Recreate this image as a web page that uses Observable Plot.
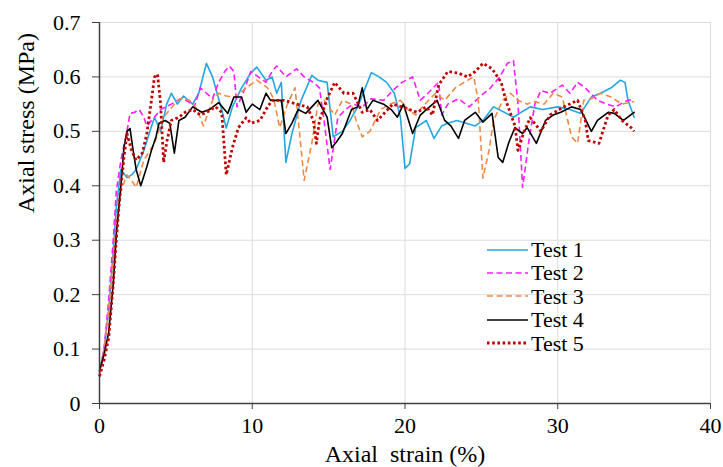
<!DOCTYPE html>
<html>
<head>
<meta charset="utf-8">
<script src="https://cdn.jsdelivr.net/npm/d3@7"></script>
<script src="https://cdn.jsdelivr.net/npm/@observablehq/plot@0.6"></script>
<style>
  html, body { margin: 0; padding: 0; background: #fff; }
  #wrap { position: relative; width: 723px; height: 467px; font-family: "Liberation Serif", "Times New Roman", serif; }
  #legend { position: absolute; left: 487px; top: 238px; font-size: 22px; color: #000; }
  .row { height: 23.4px; line-height: 23.4px; display: flex; align-items: center; white-space: nowrap; }
  .row svg { width: 41px; height: 10px; margin-right: 3px; }
</style>
</head>
<body>
<div id="wrap"><div id="legend"></div></div>
<script>
// ---- data ----
const seriesNames = ["Test 1", "Test 2", "Test 3", "Test 4", "Test 5"];
const xTicks = [0, 10, 20, 30, 40];
const yTicks = [0, 0.1, 0.2, 0.3, 0.4, 0.5, 0.6, 0.7];
const xLabel = "Axial\u00a0 strain (%)";
const yLabel = "Axial stress (MPa)";

const test1Strain = [0,0.3,0.6,0.9,1.1,1.4,1.8,2.1,2.4,2.9,3.3,3.6,4.0,4.4,4.7,5.1,5.5,6.1,6.5,7.0,7.4,7.7,8.0,8.3,8.7,9.3,9.9,10.3,10.9,11.3,11.6,11.9,12.2,12.6,13.2,13.9,14.3,14.9,15.3,15.9,16.4,16.9,17.4,17.8,18.3,18.8,19.3,19.7,20.0,20.3,20.7,21.4,21.9,22.4,22.8,23.4,24.0,24.6,25.1,25.8,26.5,27.1,27.6,28.2,29.0,30.0,30.8,31.5,32.2,32.8,33.5,34.1,34.4,34.6,35.0];
const test1Stress = [0.06,0.10,0.17,0.28,0.36,0.43,0.415,0.42,0.43,0.465,0.50,0.526,0.50,0.55,0.57,0.55,0.565,0.55,0.57,0.625,0.60,0.57,0.54,0.506,0.545,0.58,0.607,0.618,0.594,0.60,0.57,0.59,0.443,0.496,0.557,0.603,0.594,0.59,0.49,0.50,0.52,0.545,0.58,0.608,0.60,0.59,0.57,0.526,0.432,0.44,0.507,0.52,0.487,0.51,0.515,0.52,0.515,0.51,0.52,0.545,0.535,0.526,0.535,0.545,0.54,0.545,0.54,0.533,0.563,0.57,0.58,0.594,0.59,0.557,0.526];

const test2Strain = [0,0.3,0.6,0.9,1.1,1.4,1.8,2.0,2.3,2.6,2.9,3.1,3.6,4.0,4.7,5.3,5.8,6.2,6.6,7.0,7.4,7.8,8.2,8.5,8.8,9.0,9.4,9.9,10.4,10.9,11.3,11.6,12.2,12.9,13.4,14.0,14.4,14.7,15.1,15.6,16.1,16.6,17.2,17.8,18.6,19.2,19.8,20.5,21.0,21.5,22.2,22.4,22.8,23.5,24.2,25.0,25.6,26.2,26.7,27.1,27.4,27.7,28.1,28.5,28.9,29.5,30.3,30.8,31.3,31.8,32.6,33.2,33.8,34.4,35.0];
const test2Stress = [0.05,0.10,0.19,0.30,0.39,0.447,0.50,0.533,0.535,0.54,0.526,0.51,0.526,0.54,0.55,0.56,0.555,0.545,0.58,0.57,0.56,0.59,0.61,0.62,0.61,0.545,0.57,0.61,0.60,0.59,0.61,0.62,0.60,0.615,0.60,0.59,0.58,0.52,0.43,0.525,0.54,0.55,0.545,0.56,0.557,0.575,0.59,0.60,0.557,0.57,0.59,0.53,0.55,0.56,0.545,0.566,0.58,0.60,0.625,0.63,0.55,0.397,0.48,0.55,0.575,0.57,0.585,0.57,0.59,0.58,0.557,0.55,0.545,0.555,0.56];

const test3Strain = [0,0.3,0.6,0.9,1.1,1.4,1.8,2.1,2.4,2.9,3.6,4.2,4.9,5.3,5.9,6.4,6.8,7.4,7.8,8.3,8.9,9.6,10.3,11.0,11.4,11.8,12.3,12.8,13.1,13.4,13.9,14.3,14.7,15.4,15.9,16.5,16.8,17.2,17.7,18.4,19.0,19.7,20.2,20.7,21.3,22.0,22.6,23.3,24.1,24.5,24.8,25.1,25.5,25.8,26.4,26.9,27.4,28.0,28.4,29.1,29.7,30.3,30.9,31.3,31.7,32.2,32.8,33.5,34.2,35.0];
const test3Stress = [0.055,0.10,0.17,0.27,0.33,0.39,0.42,0.41,0.397,0.447,0.478,0.526,0.55,0.56,0.557,0.54,0.51,0.557,0.57,0.565,0.563,0.58,0.594,0.58,0.56,0.507,0.55,0.58,0.496,0.41,0.478,0.55,0.557,0.53,0.557,0.55,0.52,0.49,0.50,0.54,0.55,0.557,0.54,0.53,0.55,0.57,0.557,0.58,0.594,0.60,0.557,0.414,0.465,0.52,0.557,0.57,0.557,0.55,0.555,0.55,0.57,0.563,0.49,0.478,0.557,0.56,0.57,0.563,0.55,0.555];

const test4Strain = [0,0.3,0.6,0.9,1.1,1.4,1.6,1.8,2.0,2.2,2.4,2.7,3.1,3.4,3.7,3.9,4.3,4.6,4.9,5.2,5.6,6.1,6.7,7.2,7.8,8.4,8.8,9.3,9.6,10.0,10.5,10.9,11.2,11.9,12.2,12.6,13.0,13.5,14.3,14.9,15.2,15.5,15.9,16.5,16.9,17.2,17.5,17.9,18.6,19.1,19.5,19.9,20.5,21.0,21.4,22.1,22.6,23.0,23.5,23.9,24.6,25.1,25.7,26.1,26.4,26.8,27.2,27.7,28.0,28.6,29.2,29.7,30.2,30.9,31.5,32.2,32.6,33.3,33.7,34.3,35.0];
const test4Stress = [0.06,0.09,0.13,0.22,0.31,0.40,0.47,0.50,0.505,0.465,0.43,0.40,0.435,0.465,0.49,0.515,0.52,0.515,0.46,0.52,0.526,0.545,0.535,0.54,0.553,0.533,0.563,0.563,0.535,0.55,0.54,0.57,0.557,0.557,0.496,0.515,0.54,0.533,0.557,0.526,0.47,0.48,0.496,0.54,0.545,0.58,0.54,0.557,0.55,0.54,0.526,0.55,0.496,0.53,0.54,0.557,0.52,0.51,0.487,0.52,0.535,0.517,0.533,0.452,0.443,0.48,0.507,0.496,0.507,0.478,0.52,0.53,0.535,0.545,0.54,0.50,0.52,0.535,0.533,0.52,0.535];

const test5Strain = [0,0.3,0.6,0.9,1.1,1.3,1.6,1.8,2.1,2.4,2.8,3.1,3.4,3.6,3.8,4.0,4.2,4.4,4.7,5.2,5.6,6.1,6.6,7.0,7.6,8.0,8.3,8.7,9.1,9.6,9.9,10.5,11.0,11.3,12.1,12.9,13.6,14.0,14.2,14.4,14.9,15.4,16.0,16.6,17.2,17.7,18.2,19.2,19.8,20.3,20.8,21.4,21.8,22.2,22.8,23.5,24.1,24.6,25.1,25.7,26.3,26.6,27.2,27.4,27.8,28.2,28.9,29.5,30.4,31.3,31.8,32.0,32.7,33.3,33.7,34.2,34.8,35.0];
const test5Stress = [0.05,0.08,0.12,0.22,0.30,0.37,0.452,0.496,0.465,0.447,0.46,0.496,0.557,0.60,0.605,0.55,0.443,0.48,0.52,0.526,0.535,0.54,0.53,0.535,0.545,0.535,0.42,0.47,0.507,0.525,0.515,0.52,0.545,0.557,0.557,0.55,0.545,0.52,0.478,0.52,0.56,0.59,0.57,0.57,0.535,0.54,0.52,0.55,0.545,0.54,0.535,0.545,0.53,0.585,0.61,0.607,0.60,0.61,0.625,0.615,0.59,0.557,0.51,0.465,0.50,0.525,0.50,0.53,0.545,0.557,0.52,0.483,0.478,0.53,0.54,0.52,0.507,0.50];

const strains = [test1Strain, test2Strain, test3Strain, test4Strain, test5Strain];
const stresses = [test1Stress, test2Stress, test3Stress, test4Stress, test5Stress];

// ---- styles ----
const FONT = "'Liberation Serif', 'Times New Roman', serif";
const styles = [
  {stroke: "#22A7E0", strokeWidth: 1.6, dash: null},
  {stroke: "#FF1CFF", strokeWidth: 1.6, dash: "6 3.5"},
  {stroke: "#EE8A48", strokeWidth: 1.6, dash: "6 3.5"},
  {stroke: "#000000", strokeWidth: 1.6, dash: null},
  {stroke: "#C00000", strokeWidth: 2.8, dash: "2.6 2.6"}
];

const lineMarks = seriesNames.map((name, i) => {
  const rows = strains[i].map((s, j) => ({strain: s, stress: stresses[i][j]}));
  const st = styles[i];
  const opts = {x: "strain", y: "stress", stroke: st.stroke, strokeWidth: st.strokeWidth, curve: "linear", strokeLinejoin: "round"};
  if (st.dash) { opts.strokeDasharray = st.dash; opts.strokeLinecap = "butt"; }
  return Plot.line(rows, opts);
});

const chart = Plot.plot({
  width: 723,
  height: 467,
  marginLeft: 99,
  marginRight: 13,
  marginTop: 22,
  marginBottom: 64,
  style: {fontFamily: FONT, fontSize: "22px", color: "#000", background: "#fff"},
  x: {domain: [0, 40]},
  y: {domain: [0, 0.7]},
  marks: [
    Plot.gridX(xTicks.filter(d => d > 0), {stroke: "#dcdcdc", strokeOpacity: 1, strokeWidth: 1}),
    Plot.gridY(yTicks.filter(d => d > 0), {stroke: "#dcdcdc", strokeOpacity: 1, strokeWidth: 1}),
    ...lineMarks,
    Plot.ruleX([0], {stroke: "#404040", strokeWidth: 1.5}),
    Plot.ruleY([0], {stroke: "#404040", strokeWidth: 1.5}),
    Plot.axisX(xTicks, {tickSize: 6, tickPadding: 8, stroke: "#404040", label: null, tickFormat: d => String(d), fill: "#000"}),
    Plot.axisY(yTicks, {tickSize: 7, tickPadding: 12, stroke: "#404040", label: null, tickFormat: d => d === 0 ? "0" : d3.format(".1f")(d), fill: "#000"}),
    Plot.text([xLabel], {frameAnchor: "bottom", dy: 51, fontSize: 24, lineAnchor: "middle", fill: "#000"}),
    Plot.text([yLabel], {frameAnchor: "left", dx: -73, rotate: -90, fontSize: 24, lineAnchor: "middle", fill: "#000"})
  ]
});

const wrap = document.getElementById("wrap");
wrap.insertBefore(chart, wrap.firstChild);

// ---- legend ----
const legend = document.getElementById("legend");
seriesNames.forEach((name, i) => {
  const st = styles[i];
  const row = document.createElement("div");
  row.className = "row";
  const ns = "http://www.w3.org/2000/svg";
  const svg = document.createElementNS(ns, "svg");
  svg.setAttribute("viewBox", "0 0 41 10");
  const ln = document.createElementNS(ns, "line");
  ln.setAttribute("x1", 0); ln.setAttribute("x2", 41);
  ln.setAttribute("y1", 5); ln.setAttribute("y2", 5);
  ln.setAttribute("stroke", st.stroke);
  ln.setAttribute("stroke-width", st.strokeWidth);
  if (st.dash) ln.setAttribute("stroke-dasharray", st.dash);
  svg.appendChild(ln);
  row.appendChild(svg);
  const span = document.createElement("span");
  span.textContent = name;
  row.appendChild(span);
  legend.appendChild(row);
});
</script>
</body>
</html>
